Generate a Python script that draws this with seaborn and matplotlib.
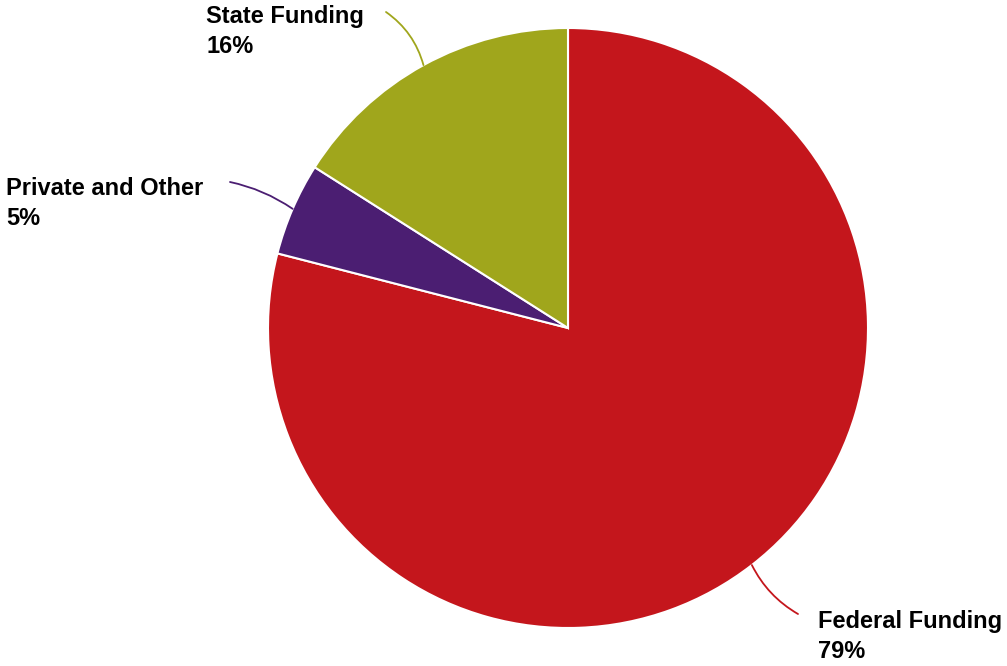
import numpy as np
import matplotlib
matplotlib.use("Agg")
import matplotlib.pyplot as plt
import seaborn as sns

# Funding sources, in drawing order (clockwise from 12 o'clock)
sources = ["Federal Funding", "Private and Other", "State Funding"]
shares = [79, 5, 16]
colors = ["#C4161C", "#4B1E72", "#A0A61C"]

# Label anchor (left/top of text) and connector end, in pixel space
label_pos = [(818, 610), (6, 177), (206, 5)]
connector_end = [(798, 614), (230, 182), (386, 12)]
connector_rad = [0.15, 0.1, 0.18]

sns.set_theme(style="white")
plt.rcParams["font.family"] = ["Liberation Sans", "DejaVu Sans"]

W, H = 1007, 666
fig = plt.figure(figsize=(W / 100, H / 100), dpi=100)
ax = fig.add_axes([0, 0, 1, 1])

cx, cy, r = 568, H - 328, 300
palette = sns.color_palette(colors)
wedges, _ = ax.pie(shares, colors=palette, startangle=90, counterclock=False,
                   center=(cx, cy), radius=r, frame=True,
                   wedgeprops=dict(edgecolor="white", linewidth=1.5))
ax.set_xlim(0, W)
ax.set_ylim(0, H)
ax.set_aspect("equal")
ax.axis("off")

for w, name, val, col, (tx, ty), (ex, ey), rad in zip(
        wedges, sources, shares, colors, label_pos, connector_end, connector_rad):
    mid = np.deg2rad((w.theta1 + w.theta2) / 2)
    sx, sy = cx + r * np.cos(mid), cy + r * np.sin(mid)
    ax.annotate("", xy=(ex, H - ey), xytext=(sx, sy),
                arrowprops=dict(arrowstyle="-", color=col, lw=1.3,
                                shrinkA=0, shrinkB=0,
                                connectionstyle=f"arc3,rad={rad}"))
    ax.text(tx, H - ty, f"{name}\n{val}%", ha="left", va="top",
            fontsize=17, fontweight="bold", color="black", linespacing=1.38)

fig.savefig("out.png", dpi=100)
